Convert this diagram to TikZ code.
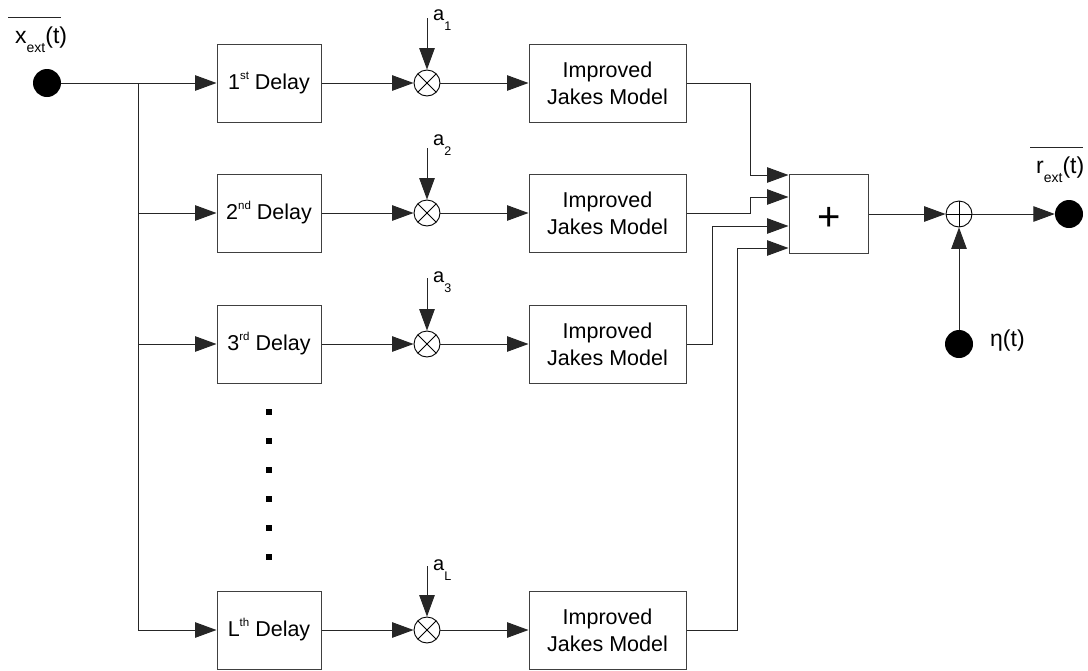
\documentclass[tikz,border=0pt]{standalone}
\usepackage{fontspec}
\setmainfont{Liberation Sans}
\usetikzlibrary{arrows.meta,calc}

% lowered / raised small text: shift, size, text
\newcommand\lowtxt[3]{\raisebox{-#1pt}{\fontsize{#2}{#2}\selectfont #3}}
\newcommand\hightxt[1]{\raisebox{10pt}{\fontsize{11.5}{11.5}\selectfont #1}}

\begin{document}
\begin{tikzpicture}[x=1pt,y=-1pt,
  wire/.style={draw=black!85, line width=1pt},
  arr/.style={wire, -{Triangle[length=21.5pt,width=15.5pt]}},
  delaybox/.style={draw=black!75, line width=1pt, fill=white,
    minimum width=104pt, minimum height=78pt, inner sep=0pt,
    font=\fontsize{21.5}{24}\selectfont},
  jakesbox/.style={delaybox, minimum width=157pt, align=center,
    font=\fontsize{21.5}{27}\selectfont},
  sumbox/.style={delaybox, minimum width=79pt, minimum height=79pt},
  mult/.style={circle, draw=black, line width=0.9pt, minimum size=26pt, inner sep=0pt,
    path picture={\draw[line width=0.8pt] (path picture bounding box.center) +(45:14) -- +(225:14)
      (path picture bounding box.center) +(135:14) -- +(-45:14);}},
  adder/.style={circle, draw=black, line width=0.9pt, minimum size=26pt, inner sep=0pt,
    path picture={\draw[line width=0.8pt] (path picture bounding box.center) +(0:14) -- +(180:14)
      (path picture bounding box.center) +(90:14) -- +(270:14);}},
  dot/.style={circle, fill=black, minimum size=28pt, inner sep=0pt},
  lbl/.style={inner sep=0pt, anchor=base west, font=\fontsize{23}{23}\selectfont},
  coef/.style={inner sep=0pt, anchor=base west, font=\fontsize{20}{20}\selectfont}]

\useasboundingbox (0,0) rectangle (1088,670);

% input, output and noise terminals
\node[dot] (in) at (47,83) {};
\node[dot] (out) at (1069,214) {};
\node[dot] (eta) at (959,344) {};

% delay line taps
\node[delaybox] (d1) at (269,83) {1\hightxt{st} Delay};
\node[delaybox] (d2) at (269,213) {2\hightxt{nd} Delay};
\node[delaybox] (d3) at (269,344) {3\hightxt{rd} Delay};
\node[delaybox] (dL) at (269,630) {L\hightxt{th} Delay};

% tap gain multipliers
\node[mult] (m1) at (427,83) {};
\node[mult] (m2) at (427,213) {};
\node[mult] (m3) at (427,344) {};
\node[mult] (mL) at (427,630) {};

% fading generators
\node[jakesbox] (j1) at (607.5,83) {Improved\\Jakes Model};
\node[jakesbox] (j2) at (607.5,213) {Improved\\Jakes Model};
\node[jakesbox] (j3) at (607.5,344) {Improved\\Jakes Model};
\node[jakesbox] (jL) at (607.5,630) {Improved\\Jakes Model};

% summation and noise addition
\node[sumbox] (sum) at (828.5,213.5) {};
\node[inner sep=0pt, font=\fontsize{40}{40}\selectfont] (plus) at (829,219) {+};
\node[adder] (add) at (959,214) {};

% signal labels
\node[lbl] (xl) at (15,43) {x\lowtxt{9}{14}{ext}(t)};
\node[lbl] (rl) at (1036,173) {r\lowtxt{9}{14}{ext}(t)};
\node[lbl] (el) at (990,346) {η(t)};
\draw[wire] ([shift={(-7,-9)}]xl.north west) -- ([shift={(-6,-9)}]xl.north east);
\draw[wire] ([shift={(-6,-9)}]rl.north west) -- ([shift={(-1,-9)}]rl.north east);

% coefficient labels and inputs
\node[coef] (a1) at (433,20) {a\lowtxt{10}{12.5}{1}};
\node[coef] (a2) at (433,145) {a\lowtxt{10}{12.5}{2}};
\node[coef] (a3) at (433,282) {a\lowtxt{10}{12.5}{3}};
\node[coef] (aL) at (433,570) {a\lowtxt{10}{12.5}{L}};
\coordinate (c1) at (427,18);
\coordinate (c2) at (427,148);
\coordinate (c3) at (427,278);
\coordinate (cL) at (427,566);
\draw[arr] (c1) -- (m1.north);
\draw[arr] (c2) -- (m2.north);
\draw[arr] (c3) -- (m3.north);
\draw[arr] (cL) -- (mL.north);

% input distribution trunk
\coordinate (tr) at (138,83);
\draw[wire] (in) -- (tr);
\draw[wire] (tr) -- (tr |- dL.west);
\draw[arr] (tr) -- (d1.west);
\draw[arr] (tr |- d2.west) -- (d2.west);
\draw[arr] (tr |- d3.west) -- (d3.west);
\draw[arr] (tr |- dL.west) -- (dL.west);

% omitted taps
\foreach \yy in {412,441,470,499,528,557}
  \fill (266,\yy-3) rectangle (272,\yy+3);

% delay -> multiplier -> fading generator
\foreach \r in {1,2,3,L} {
  \draw[arr] (d\r.east) -- (m\r.west);
  \draw[arr] (m\r.east) -- (j\r.west);
}

% fading outputs into the summer
\coordinate (k1) at (750,175);
\coordinate (k2) at (750,197);
\coordinate (k3) at (712,226);
\coordinate (k4) at (737,248);
\draw[arr] (j1.east) -| (k1) -- (k1 -| sum.west);
\draw[arr] (j2.east) -| (k2) -- (k2 -| sum.west);
\draw[arr] (j3.east) -| (k3) -- (k3 -| sum.west);
\draw[arr] (jL.east) -| (k4) -- (k4 -| sum.west);

% output path
\draw[arr] (sum.east |- add.west) -- (add.west);
\draw[arr] (add.east) -- (out.west);
\draw[arr] (eta.north) -- (add.south);
\end{tikzpicture}
\end{document}
